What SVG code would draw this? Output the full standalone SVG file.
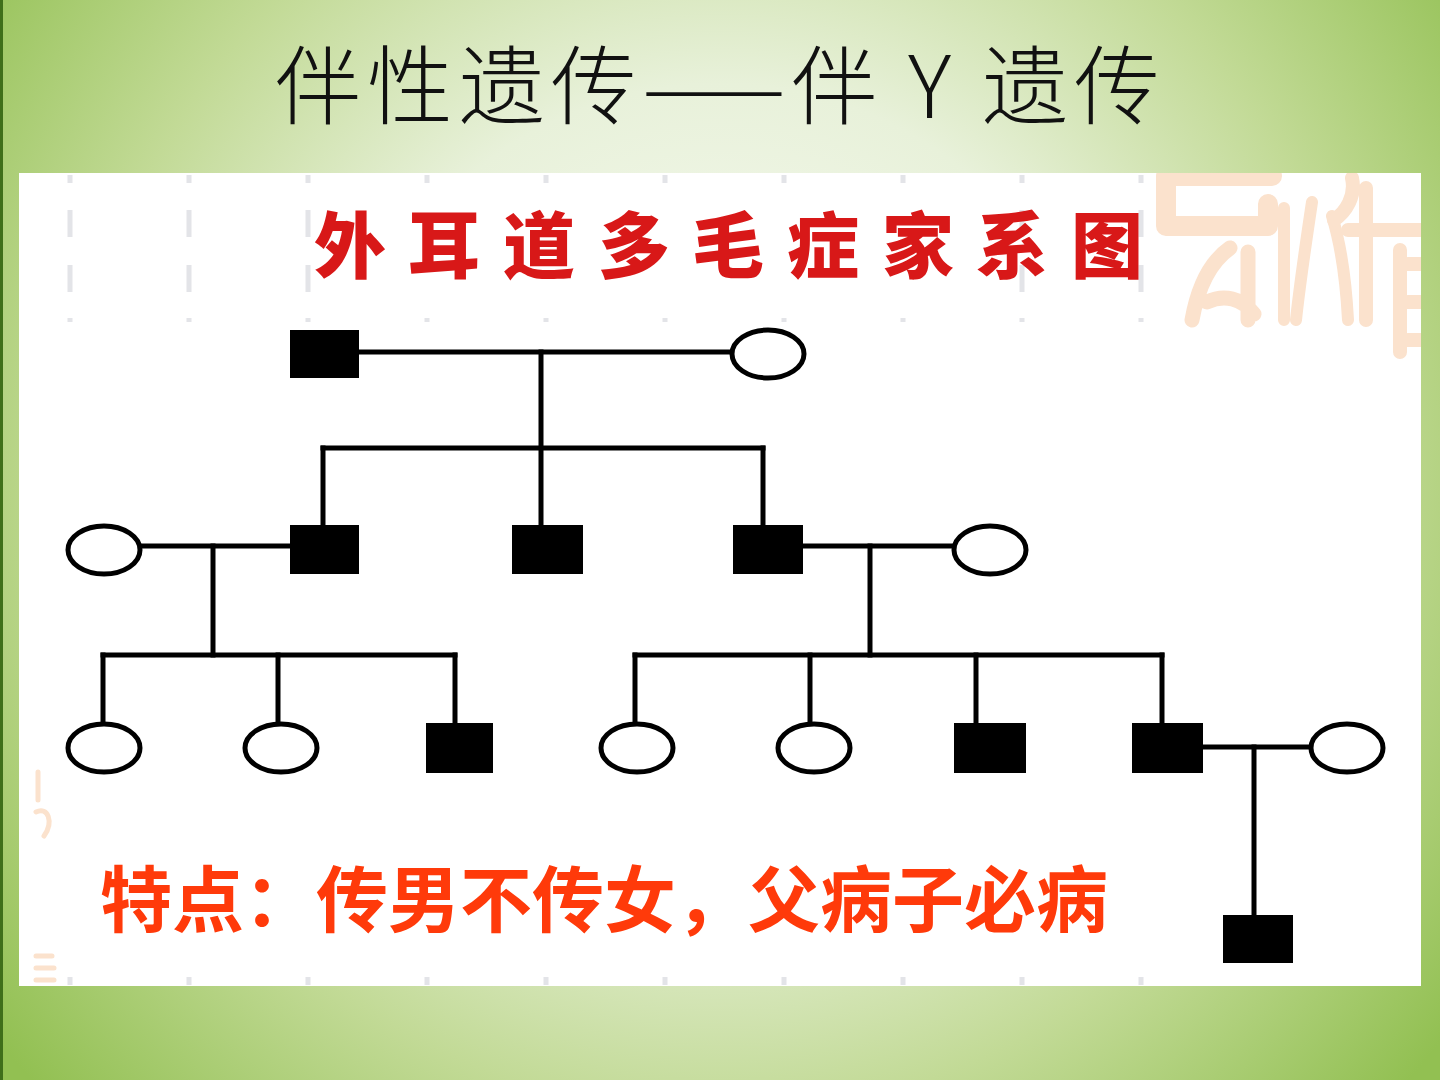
<svg xmlns="http://www.w3.org/2000/svg" width="1440" height="1080" viewBox="0 0 1440 1080">
  <defs>
    <radialGradient id="bg" gradientUnits="userSpaceOnUse" cx="720" cy="470" r="920">
      <stop offset="0" stop-color="#fbfdf7"/>
      <stop offset="0.42" stop-color="#e8f1da"/>
      <stop offset="0.7" stop-color="#c2da96"/>
      <stop offset="1" stop-color="#92c052"/>
    </radialGradient>
    <clipPath id="panelClip">
      <rect x="19" y="173" width="1402" height="813"/>
    </clipPath>
    <style>
      .aff { fill: #000; }
      .unaff { fill: #fff; stroke: #000; stroke-width: 5; }
      .ln { stroke: #000; stroke-width: 5; fill: none; stroke-linecap: square; }
      .dash { stroke: #e3e4e8; stroke-width: 5; }
      .seal { stroke: #fbe2cd; fill: none; stroke-linecap: round; stroke-linejoin: round; }
      .title { font-family: "Noto Sans CJK SC", "Liberation Sans", sans-serif; font-weight: 300; font-size: 86px; fill: #111; }
      .red { font-family: "Noto Sans CJK SC", sans-serif; font-weight: 900; font-size: 72px; fill: #d81818; }
      .note { font-family: "Noto Sans CJK SC", sans-serif; font-weight: 700; font-size: 72px; fill: #ff3a0a; }
    </style>
  </defs>

  <!-- background -->
  <rect x="0" y="0" width="1440" height="1080" fill="url(#bg)"/>
  <rect x="0" y="0" width="3" height="1080" fill="#3f6f1a"/>

  <!-- title -->
  <text class="title" x="275" y="118" textLength="885" lengthAdjust="spacing">伴性遗传——伴 Y 遗传</text>

  <!-- white panel -->
  <rect x="19" y="173" width="1402" height="813" fill="#ffffff"/>

  <!-- faint decorative grid dashes -->
  <g id="grid">
    <g class="dash">
      <path d="M70 175v8M70 210v27M70 265v27M70 318v4M70 977v8"/>
      <path d="M189 175v8M189 210v27M189 265v27M189 318v4M189 977v8"/>
      <path d="M308 175v8M308 210v27M308 265v27M308 318v4M308 977v8"/>
      <path d="M427 175v8M427 318v4M427 977v8"/>
      <path d="M546 175v8M546 318v4M546 977v8"/>
      <path d="M665 175v8M665 318v4M665 977v8"/>
      <path d="M784 175v8M784 318v4M784 977v8"/>
      <path d="M903 175v8M903 318v4M903 977v8"/>
      <path d="M1022 175v8M1022 210v27M1022 265v27M1022 318v4M1022 977v8"/>
      <path d="M1141 175v8M1141 210v27M1141 265v27M1141 318v4M1141 977v8"/>
    </g>
  </g>

  <!-- faint seal decoration -->
  <g id="seal" clip-path="url(#panelClip)">
    <path class="seal" stroke-width="20" d="M1166 176 H1272 M1166 176 V226 H1268 V204"/>
    <path class="seal" stroke-width="15" d="M1192 320 C1197 292 1207 264 1230 248 M1207 302 C1224 294 1242 298 1254 314 M1248 252 V320"/>
    <path class="seal" stroke-width="12" d="M1284 208 V320 M1312 202 C1306 242 1300 282 1296 320 M1332 216 C1340 242 1346 282 1348 320"/>
    <path class="seal" stroke-width="14" d="M1352 178 C1356 196 1346 212 1334 220 M1366 188 V320 M1348 230 H1424"/>
    <path class="seal" stroke-width="14" d="M1400 250 V352 M1408 264 H1424 M1408 302 H1424 M1408 340 H1424"/>
    <path class="seal" stroke-width="5" d="M38 772 V800 M36 812 C48 806 54 822 44 836 M36 956 H52 M36 968 H54 M36 980 H54"/>
  </g>

  <!-- red heading -->
  <text class="red" x="314 408 503 598 692 787 882 976 1071" y="272">外耳道多毛症家系图</text>

  <!-- connectors -->
  <g id="connectors" class="ln">
    <path d="M359 352 H732"/>
    <path d="M541 352 V525"/>
    <path d="M323 448 H763"/>
    <path d="M323 448 V525"/>
    <path d="M763 448 V525"/>
    <path d="M140 546 H290"/>
    <path d="M213 546 V655"/>
    <path d="M103 655 H455"/>
    <path d="M103 655 V722"/>
    <path d="M278 655 V722"/>
    <path d="M455 655 V723"/>
    <path d="M803 546 H954"/>
    <path d="M870 546 V655"/>
    <path d="M635 655 H1162"/>
    <path d="M635 655 V722"/>
    <path d="M810 655 V722"/>
    <path d="M976 655 V723"/>
    <path d="M1162 655 V723"/>
    <path d="M1203 747 H1311"/>
    <path d="M1254 747 V915"/>
  </g>

  <!-- nodes -->
  <g id="I1"><rect class="aff" x="290" y="330" width="69" height="48"/></g>
  <g id="I2"><ellipse class="unaff" cx="768" cy="354" rx="36" ry="24"/></g>
  <g id="II0"><ellipse class="unaff" cx="104" cy="550" rx="36" ry="24"/></g>
  <g id="II1"><rect class="aff" x="290" y="525" width="69" height="49"/></g>
  <g id="II2"><rect class="aff" x="512" y="525" width="71" height="49"/></g>
  <g id="II3"><rect class="aff" x="733" y="525" width="70" height="49"/></g>
  <g id="II4"><ellipse class="unaff" cx="990" cy="550" rx="36" ry="24"/></g>
  <g id="III1"><ellipse class="unaff" cx="104" cy="748" rx="36" ry="24"/></g>
  <g id="III2"><ellipse class="unaff" cx="281" cy="748" rx="36" ry="24"/></g>
  <g id="III3"><rect class="aff" x="426" y="723" width="67" height="50"/></g>
  <g id="III4"><ellipse class="unaff" cx="637" cy="748" rx="36" ry="24"/></g>
  <g id="III5"><ellipse class="unaff" cx="814" cy="748" rx="36" ry="24"/></g>
  <g id="III6"><rect class="aff" x="954" y="723" width="72" height="50"/></g>
  <g id="III7"><rect class="aff" x="1132" y="723" width="71" height="50"/></g>
  <g id="III8"><ellipse class="unaff" cx="1347" cy="748" rx="36" ry="24"/></g>
  <g id="IV1"><rect class="aff" x="1223" y="915" width="70" height="48"/></g>

  <!-- note -->
  <text class="note" x="100" y="926">特点：传男不传女，父病子必病</text>
</svg>
